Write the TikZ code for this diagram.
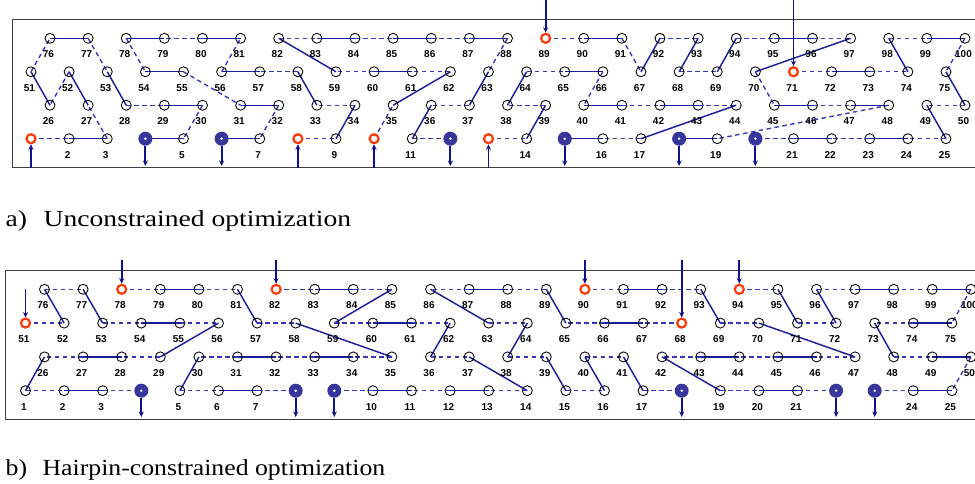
\documentclass[tikz,border=0pt]{standalone}
\usepackage{fontspec}
\setmainfont{Liberation Serif}
\newfontfamily\labfont{Liberation Sans}
\usepackage{graphicx}
\usetikzlibrary{arrows.meta}
\pgfdeclarelayer{bg}
\pgfsetlayers{bg,main}
\definecolor{solidc}{HTML}{1C1C9C}
\definecolor{dashc}{HTML}{3535BC}
\definecolor{arrc}{HTML}{10108F}
\definecolor{fillc}{HTML}{36369C}
\definecolor{redc}{HTML}{FF3A0A}
\newcommand\drawchain[2]{%
  \foreach \v [count=\i, remember=\v as \u (initially 0)] in {#2} {%
    \ifnum\i>1
      \pgfmathtruncatemacro\pp{mod(\i,2)}%
      \draw[e\pp] (#1\u.center) -- (#1\v.center);%
    \fi
  }%
}
\tikzset{
  nolab/.code={\def\skiplab{1}},
  hla1/.style={nolab}, hla8/.style={nolab}, hla10/.style={nolab}, hla13/.style={nolab},
  hla4/.style={nolab}, hla6/.style={nolab}, hla12/.style={nolab}, hla15/.style={nolab}, hla18/.style={nolab}, hla20/.style={nolab},
  hlb4/.style={nolab}, hlb8/.style={nolab}, hlb9/.style={nolab}, hlb18/.style={nolab}, hlb22/.style={nolab}, hlb23/.style={nolab}
}
\begin{document}
\begin{tikzpicture}[x=1pt,y=-1pt,
  opennode/.style={circle,draw=black,line width=0.85pt,minimum size=10pt,inner sep=0pt},
  rednode/.style={draw=redc,line width=2.2pt,fill=white,minimum size=9pt},
  fillnode/.style={draw=none,fill=fillc,minimum size=14pt,path picture={\fill[white] (path picture bounding box.center) circle (1.4pt);}},
  lab/.style={font=\labfont\fontsize{10}{10}\selectfont\bfseries,inner sep=0pt},
  e0/.style={draw=dashc,line width=1.35pt,dash pattern=on 4.5pt off 3.5pt},
  e1/.style={draw=solidc,line width=1.45pt},
  arr/.style={draw=arrc,line width=1.8pt,-{Stealth[length=5.5pt,width=5pt]}},
  frame/.style={draw=black!75,line width=1.2pt},
  title/.style={font=\fontsize{23}{23}\selectfont,anchor=base west,inner sep=0pt},
  sa1/.style={rednode}, sa8/.style={rednode}, sa10/.style={rednode}, sa13/.style={rednode}, sa89/.style={rednode}, sa71/.style={rednode},
  sa4/.style={fillnode}, sa6/.style={fillnode}, sa12/.style={fillnode}, sa15/.style={fillnode}, sa18/.style={fillnode}, sa20/.style={fillnode},
  sb51/.style={rednode}, sb78/.style={rednode}, sb82/.style={rednode}, sb90/.style={rednode}, sb68/.style={rednode}, sb94/.style={rednode},
  sb4/.style={fillnode}, sb8/.style={fillnode}, sb9/.style={fillnode}, sb18/.style={fillnode}, sb22/.style={fillnode}, sb23/.style={fillnode}
]
\useasboundingbox (0,0) rectangle (975,484);
% frames
\draw[frame] (12.3,19.3) rectangle (990,167.5);
\draw[frame] (5.7,270.7) rectangle (990,419.3);
% panel a nodes
\foreach \n in {1,...,100} {
  \pgfmathtruncatemacro\r{int((\n-1)/25)}
  \pgfmathtruncatemacro\k{mod(\n-1,25)}
  \pgfmathsetmacro\xx{31+38.125*\k+19*mod(\r,2)}
  \pgfmathsetmacro\yy{138.7-33.47*\r}
  \node[opennode, sa\n/.try] (a\n) at (\xx,\yy) {};
  \def\skiplab{0}\tikzset{hla\n/.try}
  \ifnum\skiplab=0 \node[lab] (la\n) at (\xx-1.5,\yy+16) {\n};\fi
}
% panel b nodes
\foreach \n in {1,...,100} {
  \pgfmathtruncatemacro\r{int((\n-1)/25)}
  \pgfmathtruncatemacro\k{mod(\n-1,25)}
  \pgfmathsetmacro\xx{25.5+38.6*\k+19*mod(\r,2)}
  \pgfmathsetmacro\yy{390.7-33.8*\r}
  \node[opennode, sb\n/.try] (b\n) at (\xx,\yy) {};
  \def\skiplab{0}\tikzset{hlb\n/.try}
  \ifnum\skiplab=0 \node[lab] (lb\n) at (\xx-1.5,\yy+16) {\n};\fi
}
\begin{pgfonlayer}{bg}
\drawchain{a}{1,2,3,27,52,26,51,76,77,53,28,29,30,5,4}
\drawchain{a}{8,9,34,33,58,57,56,81,80,79,78,54,55,31,32,7,6}
\drawchain{a}{10,35,62,61,60,59,82,83,84,85,86,87,88,63,37,36,11,12}
\drawchain{a}{13,14,39,38,64,65,66,40,41,42,43,44,17,16,15}
\drawchain{a}{89,90,91,67,92,93,68,69,94,95,96,97,70,45,46,47,48,19,18}
\drawchain{a}{71,72,73,74,98,99,100,75,50,49,25,24,23,22,21,20}
\drawchain{b}{51,52,76,77,53,54,55,56,29,28,27,26,1,2,3,4}
\drawchain{b}{78,79,80,81,57,58,35,34,33,32,31,30,5,6,7,8}
\drawchain{b}{82,83,84,85,59,60,61,62,36,37,14,13,12,11,10,9}
\drawchain{b}{90,91,92,93,69,70,47,46,45,44,43,42,19,20,21,22}
\drawchain{b}{68,67,66,65,89,88,87,86,63,64,38,39,15,16,40,41,17,18}
\drawchain{b}{94,95,71,72,96,97,98,99,100,75,74,73,48,49,50,25,24,23}
\end{pgfonlayer}
% arrow anchors
\coordinate (pat) at (0,0);
\coordinate (pab) at (0,168);
\coordinate (pao) at (0,166);
\coordinate (pbt) at (0,260);
\coordinate (pbm) at (0,289);
\coordinate (pbo) at (0,417);
% panel a arrows
\foreach \n in {1,8,10,13} {\draw[arr] (a\n |- pab) -- (a\n);}
\foreach \n in {89,71} {\draw[arr] (a\n |- pat) -- (a\n);}
\foreach \n in {4,6,12,15,18,20} {\draw[arr] (a\n.south) -- (a\n |- pao);}
% panel b arrows
\foreach \n in {78,82,90,94,68} {\draw[arr] (b\n |- pbt) -- (b\n);}
\draw[arr] (b51 |- pbm) -- (b51);
\foreach \n in {4,8,9,18,22,23} {\draw[arr] (b\n.south) -- (b\n |- pbo);}
% titles
\node[title] (ta) at (5.5,226) {\scalebox{1.2}[1]{a)\hspace{0.6em}Unconstrained optimization}};
\node[title] (tb) at (5.5,475) {\scalebox{1.12}[1]{b)\hspace{0.6em}Hairpin-constrained optimization}};
\end{tikzpicture}
\end{document}
